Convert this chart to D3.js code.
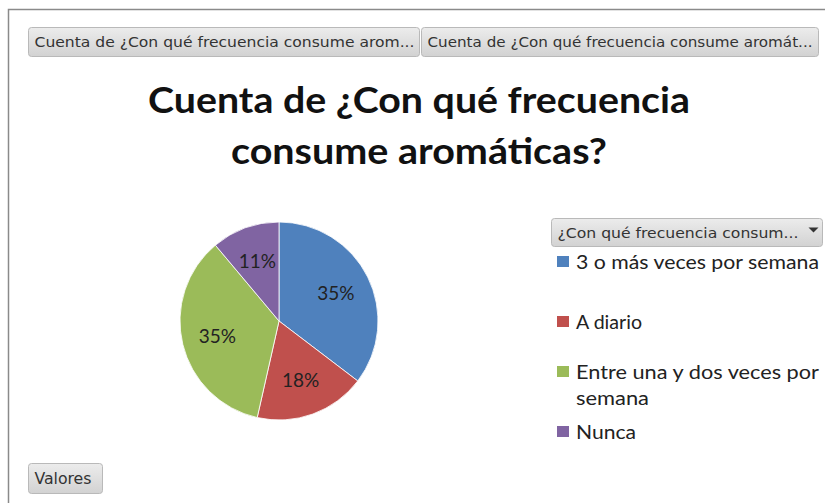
<!DOCTYPE html>
<html>
<head>
<meta charset="utf-8">
<script src="https://cdn.jsdelivr.net/npm/d3@7"></script>
<style>
  html, body { margin: 0; padding: 0; background: #fff; }
  svg { display: block; }
</style>
</head>
<body>
<svg id="chart" width="825" height="503"></svg>
<script>
// Frequency categories and their share of responses (%)
const categories = ["3 o más veces por semana", "A diario", "Entre una y dos veces por semana", "Nunca"];
const shares = [35, 18, 35, 11];
const colors = ["#4F81BD", "#C0504D", "#9BBB59", "#8064A2"];
// Legend text, wrapped the way it is shown
const legendLines = [["3 o más veces por semana"], ["A diario"], ["Entre una y dos veces por", "semana"], ["Nunca"]];
const titleLines = ["Cuenta de ¿Con qué frecuencia", "consume aromáticas?"];
const fieldButtons = ["Cuenta de ¿Con qué frecuencia consume arom...", "Cuenta de ¿Con qué frecuencia consume aromát..."];
const legendHeader = "¿Con qué frecuencia consum...";
const valuesButton = "Valores";

const svg = d3.select("#chart");
const bodyFont = "Lato, 'Open Sans', 'DejaVu Sans', sans-serif";
const btnFont = "'DejaVu Sans Condensed', 'DejaVu Sans', sans-serif";

const defs = svg.append("defs");
const grad = defs.append("linearGradient").attr("id", "btnGrad")
  .attr("x1", 0).attr("y1", 0).attr("x2", 0).attr("y2", 1);
grad.append("stop").attr("offset", "0%").attr("stop-color", "#ececec");
grad.append("stop").attr("offset", "100%").attr("stop-color", "#d2d2d2");

// Chart frame (top and left edges)
svg.append("path")
  .attr("d", "M8.5,503 L8.5,9.5 L825,9.5")
  .attr("fill", "none").attr("stroke", "#8a8a8a").attr("stroke-width", 1.5);

function button(x, y, w, h, label, textLen, size) {
  const g = svg.append("g").attr("transform", `translate(${x},${y})`);
  g.append("rect").attr("width", w).attr("height", h).attr("rx", 3)
    .attr("fill", "url(#btnGrad)").attr("stroke", "#b9b9b9");
  g.append("text").attr("x", 6).attr("y", h / 2 + size * 0.36)
    .attr("font-family", btnFont).attr("font-size", size).attr("fill", "#333")
    .attr("textLength", textLen).attr("lengthAdjust", "spacingAndGlyphs")
    .text(label);
  return g;
}

// Field buttons along the top
button(28.5, 27.5, 391, 29, fieldButtons[0], 380, 14.5);
button(421.5, 27.5, 397, 29, fieldButtons[1], 385, 14.5);

// Title
const titleY = [113, 164];
const titleW = [542, 376];
svg.append("g").selectAll("text").data(titleLines).join("text")
  .attr("x", 419).attr("y", (d, i) => titleY[i])
  .attr("text-anchor", "middle")
  .attr("font-family", bodyFont).attr("font-weight", "bold").attr("font-size", 37)
  .attr("fill", "#111")
  .attr("textLength", (d, i) => titleW[i]).attr("lengthAdjust", "spacingAndGlyphs")
  .text(d => d);

// Pie
const cx = 279, cy = 321, r = 99;
const pie = d3.pie().sort(null).value(d => d);
const arcs = pie(shares);
const arc = d3.arc().innerRadius(0).outerRadius(r);
const labelArc = d3.arc().innerRadius(r * 0.64).outerRadius(r * 0.64);
const pg = svg.append("g").attr("transform", `translate(${cx},${cy})`);
pg.selectAll("path").data(arcs).join("path")
  .attr("d", arc).attr("fill", (d, i) => colors[i])
  .attr("stroke", "#fff").attr("stroke-width", 0.8);
pg.selectAll("text").data(arcs).join("text")
  .attr("transform", d => `translate(${labelArc.centroid(d)})`)
  .attr("text-anchor", "middle").attr("dy", "0.35em")
  .attr("font-family", bodyFont).attr("font-size", 19).attr("fill", "#222")
  .text(d => d.data + "%");

// Legend header button with dropdown arrow
const lh = button(551.5, 218.5, 271, 28, legendHeader, 241, 14.5);
lh.append("path").attr("d", "M257,9 L267,9 L262,14 Z").attr("fill", "#333");

// Legend entries
const legendY = [262, 322, 372, 432];
const legendW = [[243], [66], [243, 73], [60]];
const lg = svg.append("g");
categories.forEach((c, i) => {
  lg.append("rect").attr("x", 557).attr("y", legendY[i] - 6).attr("width", 12).attr("height", 11)
    .attr("fill", colors[i]);
  legendLines[i].forEach((line, j) => {
    lg.append("text").attr("x", 576).attr("y", legendY[i] + 7 + j * 26)
      .attr("font-family", bodyFont).attr("font-size", 19.5).attr("fill", "#222")
      .attr("textLength", legendW[i][j]).attr("lengthAdjust", "spacingAndGlyphs")
      .text(line);
  });
});

// Values field button
button(28.5, 463.5, 74, 30, valuesButton, 57, 15);
</script>
</body>
</html>
